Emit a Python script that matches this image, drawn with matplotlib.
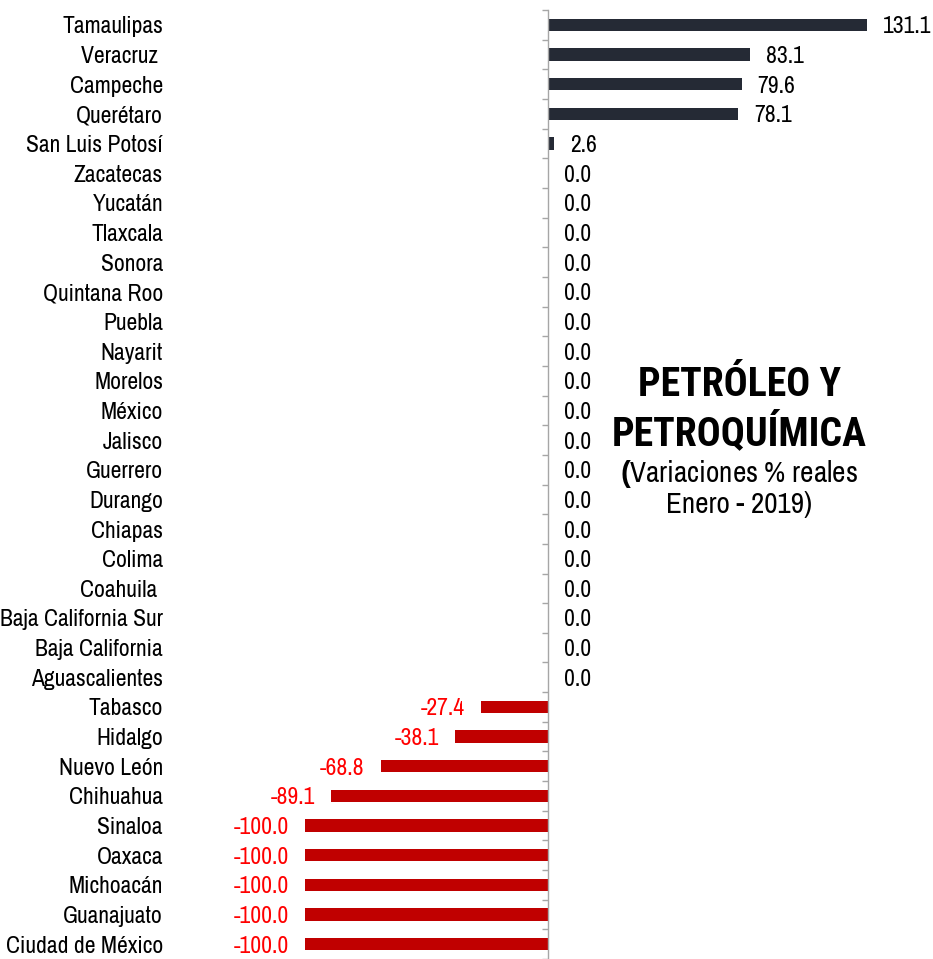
import matplotlib
matplotlib.use("Agg")
import matplotlib.pyplot as plt
from matplotlib.transforms import blended_transform_factory
from matplotlib import font_manager

avail = set(f.name for f in font_manager.fontManager.ttflist)
fam = [f for f in ['Liberation Sans Narrow', 'Arial Narrow', 'Nimbus Sans Narrow',
                   'Archivo Narrow', 'Liberation Sans', 'DejaVu Sans'] if f in avail]
plt.rcParams['font.family'] = fam
plt.rcParams['mathtext.fontset'] = 'custom'
plt.rcParams['mathtext.bf'] = 'Liberation Sans:bold'
plt.rcParams['mathtext.rm'] = fam[0]

# bold condensed family for the title, if one with a real bold face exists
def has_bold(name):
    return any(f.name == name and (f.weight == 'bold' or (isinstance(f.weight, int) and f.weight >= 700))
               for f in font_manager.fontManager.ttflist)
title_fam = [f for f in ['Roboto Condensed', 'Asap Condensed', 'Barlow Semi Condensed']
             if has_bold(f)][:1] + ['Liberation Sans', 'DejaVu Sans']
title_size = 23.5 if title_fam[0] == 'Liberation Sans' else 28.7

states = ["Tamaulipas", "Veracruz ", "Campeche", "Querétaro", "San Luis Potosí",
          "Zacatecas", "Yucatán", "Tlaxcala", "Sonora", "Quintana Roo", "Puebla",
          "Nayarit", "Morelos", "México", "Jalisco", "Guerrero", "Durango", "Chiapas",
          "Colima", "Coahuila ", "Baja California Sur", "Baja California",
          "Aguascalientes", "Tabasco", "Hidalgo", "Nuevo León", "Chihuahua",
          "Sinaloa", "Oaxaca", "Michoacán", "Guanajuato", "Ciudad de México"]
values = [131.1, 83.1, 79.6, 78.1, 2.6,
          0.0, 0.0, 0.0, 0.0, 0.0, 0.0, 0.0, 0.0, 0.0, 0.0, 0.0, 0.0, 0.0,
          0.0, 0.0, 0.0, 0.0, 0.0,
          -27.4, -38.1, -68.8, -89.1, -100.0, -100.0, -100.0, -100.0, -100.0]

W, H = 933, 959
fig = plt.figure(figsize=(W / 100, H / 100), dpi=100)
ax_left, ax_right = 170, 933
ax_top, ax_bot = 10.1, 959
ax = fig.add_axes([ax_left / W, 1 - ax_bot / H, (ax_right - ax_left) / W, (ax_bot - ax_top) / H])

pxu = 2.433
ax.set_xlim((ax_left - 548) / pxu, (ax_right - 548) / pxu)
n = len(states)
ax.set_ylim((959 - 25) / 29.8, -0.5)

pos_col = "#252a35"
neg_col = "#c00000"
ys = list(range(n))
colors = [pos_col if v >= 0 else neg_col for v in values]
ax.barh(ys, values, height=0.42, color=colors, zorder=2)

LBL = 17
for y, v in zip(ys, values):
    if v >= 0:
        ax.annotate(f"{v:.1f}", (v, y), xytext=(11.5, 0), textcoords="offset points",
                    ha="left", va="center_baseline", fontsize=LBL, color="black")
    else:
        ax.annotate(f"{v:.1f}", (v, y), xytext=(-11.5, 0), textcoords="offset points",
                    ha="right", va="center_baseline", fontsize=LBL, color="red")

trans = blended_transform_factory(ax.transAxes, ax.transData)
for y, s in zip(ys, states):
    ax.text((163 - ax_left) / (ax_right - ax_left), y, s, transform=trans,
            ha="right", va="center_baseline", fontsize=LBL, color="black", clip_on=False)

for sp in ["top", "right", "bottom"]:
    ax.spines[sp].set_visible(False)
ax.spines['left'].set_position(('data', 0))
ax.spines['left'].set_color("#a6a6a6")
ax.spines['left'].set_linewidth(1.0)
ax.set_yticks([i - 0.5 for i in range(n + 1)])
ax.set_yticklabels([])
ax.tick_params(axis='y', length=4.5, width=1.0, color="#a6a6a6", direction="out")
ax.set_xticks([])

fig.text(739 / W, 1 - 381 / H, "PETRÓLEO Y", ha="center", va="center_baseline",
         fontsize=title_size, fontweight="bold", color="black", family=title_fam)
fig.text(739 / W, 1 - 428 / H, "PETROQUÍMICA", ha="center", va="center_baseline",
         fontsize=title_size, fontweight="bold", color="black", family=title_fam)
fig.text(739 / W, 1 - 470 / H, r"$\mathbf{(}$Variaciones % reales", ha="center",
         va="center_baseline", fontsize=21, color="black")
fig.text(739 / W, 1 - 502 / H, "Enero - 2019)", ha="center", va="center_baseline",
         fontsize=21, color="black")

fig.savefig("out.png", dpi=100)
